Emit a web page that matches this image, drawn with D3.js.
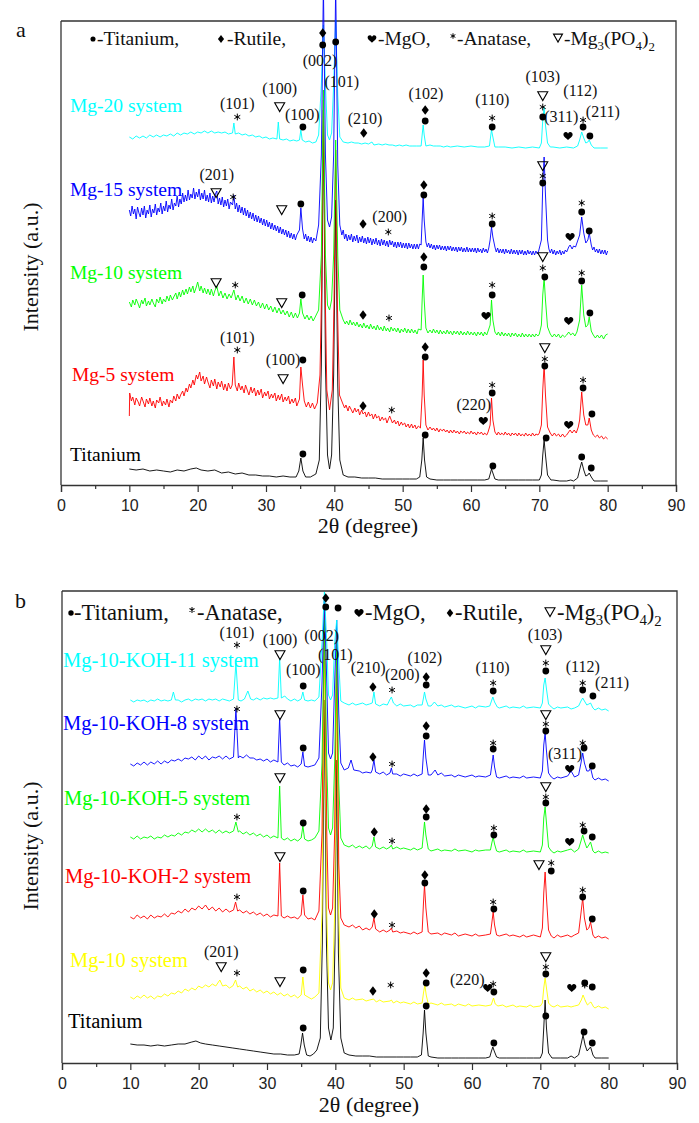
<!DOCTYPE html>
<html><head><meta charset="utf-8">
<script src="https://cdn.jsdelivr.net/npm/d3@7"></script>
<style>
body{margin:0;background:#fff}svg{display:block}
svg text.serif{font-family:"Liberation Serif","DejaVu Serif","Times New Roman",Times,serif;}
svg text.sans, svg .tick text{font-family:"Liberation Sans",Arial,Helvetica,sans-serif;}
</style>
</head><body><svg id="c" width="699" height="1123"></svg>
<script>
// ---------------- DATA ----------------
const xTickValues = [0,10,20,30,40,50,60,70,80,90];
const xMinorValues = [5,15,25,35,45,55,65,75,85];

// Panel a series: [2theta, intensity (a.u.)]
const tiA = [[10,16],[11,15],[12,16],[13,14],[14,15],[15,14],[16,13],[17,15],[18,14],[19,16],[19.8,17],[20.5,15],[21.5,14],[22.5,15],[23.5,12],[24.5,13],[25.5,11],[26.5,12],[27.5,10],[28.5,10],[29.5,9],[30.5,9],[31.5,8],[32.5,9],[33.5,8],[34.4,8],[34.8,14],[35.1,27],[35.4,14],[35.8,8],[36.5,8],[37.3,11],[37.8,25],[38.1,120],[38.4,375],[38.7,120],[39.0,30],[39.3,16],[39.6,30],[39.9,110],[40.2,285],[40.5,100],[40.8,25],[41.3,10],[42,8],[43,8],[44,7],[45,7],[46,7],[47,6],[48,6],[49,6],[50,6],[51,6],[52,6],[52.5,8],[52.8,25],[53.0,47],[53.2,25],[53.5,8],[54,6],[55,5],[56,5],[57,5],[58,5],[59,5],[60,5],[61,5],[62,5],[62.6,6],[62.85,12],[63.0,16],[63.2,12],[63.5,6],[64,5],[65,5],[66,5],[67,5],[68,5],[69,5],[70,5],[70.3,10],[70.5,30],[70.7,45],[70.9,30],[71.2,10],[71.7,5],[72,5],[73,4],[74,4],[74.6,5],[75,4],[75.6,7],[76.0,18],[76.2,23],[76.5,15],[76.8,9],[77.1,10],[77.3,12],[77.6,8],[78,4],[79,4],[80,4]];
const mg5A = [[10,69],[10.05,92],[10.3,84],[10.5,88],[10.8,80],[11,87],[11.3,83],[11.5,79],[11.8,88],[12,84],[12.3,78],[12.5,86],[12.8,81],[13,87],[13.3,79],[13.5,84],[13.8,77],[14,85],[14.3,82],[14.5,88],[14.8,79],[15,84],[15.3,80],[15.5,86],[15.8,78],[16,85],[16.3,82],[16.5,89],[16.8,84],[17,91],[17.3,86],[17.5,90],[17.8,94],[18,89],[18.3,97],[18.5,93],[18.8,101],[19,97],[19.3,105],[19.5,100],[19.8,110],[20,106],[20.3,113],[20.5,104],[20.8,109],[21,101],[21.3,108],[21.5,103],[21.8,97],[22,105],[22.3,99],[22.5,106],[22.8,96],[23,103],[23.3,98],[23.5,104],[23.8,95],[24,101],[24.3,94],[24.5,102],[24.8,96],[25.05,100],[25.3,128],[25.5,100],[25.8,94],[26,102],[26.3,95],[26.5,99],[26.8,92],[27,100],[27.3,94],[27.5,90],[27.8,98],[28,92],[28.3,97],[28.5,89],[28.8,95],[29,90],[29.3,96],[29.5,87],[29.8,93],[30,89],[30.3,94],[30.5,86],[30.8,91],[31,87],[31.3,92],[31.5,84],[31.8,90],[32,85],[32.3,91],[32.5,83],[32.8,88],[33,84],[33.3,89],[33.5,81],[33.8,86],[34,82],[34.3,87],[34.5,79],[34.9,86],[35.1,118],[35.35,100],[35.6,84],[35.9,78],[36.2,83],[36.5,77],[36.8,82],[37.1,76],[37.5,82],[37.9,110],[38.15,200],[38.4,385],[38.65,200],[38.9,95],[39.3,75],[39.7,95],[39.95,180],[40.2,335],[40.45,180],[40.75,90],[41.2,82],[41.5,77],[41.7,80],[42.0,74],[42.2,79],[42.5,75],[42.7,72],[43.0,77],[43.2,73],[43.5,76],[43.7,70],[44.0,75],[44.2,71],[44.5,73],[44.7,68],[45.0,73],[45.2,69],[45.5,71],[45.7,66],[46.0,71],[46.2,67],[46.5,69],[46.7,64],[47.0,68],[47.2,65],[47.5,67],[47.7,62],[48.1,69],[48.5,62],[48.8,65],[49,61],[49.3,64],[49.5,59],[49.8,63],[50,60],[50.3,62],[50.5,58],[50.8,61],[51,57],[51.3,61],[51.5,57],[51.8,60],[52,56],[52.3,59],[52.6,57],[52.85,90],[53.0,125],[53.15,90],[53.4,60],[53.7,55],[54,58],[54.3,55],[54.5,57],[54.8,54],[55,57],[55.3,53],[55.5,56],[55.8,54],[56,56],[56.3,53],[56.5,55],[56.8,52],[57,55],[57.3,52],[57.5,55],[57.8,52],[58,54],[58.3,51],[58.5,54],[58.8,52],[59,54],[59.3,51],[59.5,53],[59.8,51],[60,54],[60.3,51],[60.5,53],[60.8,50],[61,53],[61.3,51],[61.5,53],[61.8,50],[62,52],[62.3,50],[62.5,53],[62.8,60],[63.0,87],[63.2,65],[63.5,53],[63.8,50],[64,53],[64.3,50],[64.5,52],[64.8,50],[65,53],[65.3,50],[65.5,52],[65.8,49],[66,52],[66.3,50],[66.5,52],[66.8,49],[67,52],[67.3,49],[67.5,51],[67.8,49],[68,52],[68.3,49],[68.5,51],[68.8,49],[69,52],[69.3,49],[69.5,51],[69.8,50],[70,52],[70.3,60],[70.5,95],[70.7,120],[70.9,90],[71.2,58],[71.6,52],[71.9,49],[72.2,52],[72.5,49],[72.8,51],[73.1,48],[73.4,51],[73.7,48],[74,50],[74.3,53],[74.5,55],[74.8,52],[75.1,55],[75.4,52],[75.7,58],[75.9,65],[76.2,93],[76.5,70],[76.8,60],[77.1,60],[77.3,67],[77.6,55],[77.9,50],[78.2,48],[78.5,50],[78.8,47],[79.1,49],[79.4,46],[79.7,48],[80,46]];
const mg10A = [[10,183],[10.3,178],[10.5,185],[10.8,180],[11,186],[11.3,181],[11.5,177],[11.8,185],[12,181],[12.3,187],[12.5,179],[12.8,184],[13,180],[13.3,186],[13.5,182],[13.8,178],[14,186],[14.3,182],[14.5,188],[14.8,181],[15,186],[15.3,183],[15.5,189],[15.8,184],[16,190],[16.3,185],[16.5,188],[16.8,192],[17,186],[17.3,193],[17.5,188],[17.8,195],[18,190],[18.3,196],[18.5,191],[18.8,198],[19,193],[19.3,199],[19.5,192],[19.8,198],[20,203],[20.3,194],[20.5,199],[20.8,192],[21,197],[21.3,191],[21.5,196],[21.8,190],[22,196],[22.3,189],[22.5,194],[22.8,199],[23.1,189],[23.4,194],[23.7,187],[24,192],[24.3,186],[24.6,191],[24.9,187],[25.3,195],[25.6,185],[25.9,190],[26.2,184],[26.5,189],[26.8,182],[27.1,187],[27.4,181],[27.7,186],[28,180],[28.3,185],[28.6,179],[28.9,183],[29.2,177],[29.5,182],[29.8,176],[30.1,181],[30.4,175],[30.7,179],[31,173],[31.3,178],[31.6,172],[31.9,177],[32.2,171],[32.5,175],[32.8,170],[33.1,174],[33.4,168],[33.7,173],[34,167],[34.3,172],[34.6,167],[34.9,172],[35.1,186],[35.35,172],[35.7,166],[36,170],[36.3,165],[36.6,169],[36.9,164],[37.2,168],[37.7,175],[38.1,230],[38.4,395],[38.7,230],[39.0,180],[39.3,175],[39.6,185],[39.9,230],[40.2,345],[40.5,230],[40.8,175],[41.3,165],[41.6,161],[41.8,164],[42.1,160],[42.3,165],[42.6,160],[42.8,163],[43.1,159],[43.3,163],[43.6,158],[43.8,161],[44.1,157],[44.3,162],[44.6,157],[44.8,160],[45.1,156],[45.3,161],[45.6,156],[45.8,159],[46.1,155],[46.3,160],[46.6,155],[46.8,158],[47.1,154],[47.3,159],[47.6,154],[47.8,157],[48.1,153],[48.3,158],[48.6,154],[48.8,157],[49.1,153],[49.3,157],[49.6,152],[49.8,156],[50.1,153],[50.3,157],[50.6,152],[50.8,156],[51.1,152],[51.3,156],[51.6,152],[51.8,155],[52.1,151],[52.3,156],[52.7,155],[52.85,185],[53.0,210],[53.15,185],[53.4,157],[53.7,152],[54,155],[54.3,152],[54.5,156],[54.8,152],[55,155],[55.3,151],[55.5,155],[55.8,151],[56,154],[56.3,151],[56.5,155],[56.8,151],[57,154],[57.3,150],[57.5,154],[57.8,151],[58,154],[58.3,150],[58.5,154],[58.8,150],[59,153],[59.3,150],[59.5,154],[59.8,150],[60,153],[60.3,150],[60.5,153],[60.8,149],[61,153],[61.3,150],[61.5,153],[61.8,149],[62,153],[62.3,150],[62.5,154],[62.8,160],[63.0,185],[63.2,165],[63.5,153],[63.8,150],[64,153],[64.3,149],[64.5,153],[64.8,149],[65,152],[65.3,149],[65.5,152],[65.8,148],[66,152],[66.3,149],[66.5,152],[66.8,148],[67,151],[67.3,148],[67.5,152],[67.8,148],[68,151],[68.3,148],[68.5,151],[68.8,148],[69,151],[69.3,148],[69.5,151],[69.8,149],[70,151],[70.3,160],[70.5,190],[70.7,207],[70.9,185],[71.2,158],[71.6,151],[71.9,148],[72.2,151],[72.5,148],[72.8,151],[73.1,147],[73.4,150],[73.7,148],[74,150],[74.3,153],[74.6,150],[74.9,152],[75.2,149],[75.5,153],[75.9,165],[76.2,200],[76.5,170],[76.8,158],[77.1,160],[77.3,168],[77.6,154],[77.9,150],[78.2,147],[78.5,150],[78.8,147],[79.1,150],[79.4,146],[79.7,150],[80,151]];
const mg15A = [[10,275],[10.2,269],[10.4,279],[10.6,271],[10.8,276],[11,266],[11.2,278],[11.4,272],[11.6,268],[11.8,277],[12,270],[12.2,279],[12.4,267],[12.6,275],[12.8,271],[13,280],[13.2,268],[13.4,276],[13.6,272],[13.8,281],[14,270],[14.2,277],[14.4,273],[14.6,282],[14.8,271],[15,279],[15.2,274],[15.4,284],[15.6,273],[15.8,280],[16,276],[16.2,286],[16.4,275],[16.6,282],[16.8,279],[17,289],[17.2,278],[17.4,286],[17.6,281],[17.8,292],[18,283],[18.2,290],[18.4,284],[18.6,295],[18.8,285],[19,291],[19.2,287],[19.4,297],[19.6,286],[19.8,293],[20,288],[20.2,296],[20.4,285],[20.6,292],[20.8,286],[21,295],[21.2,284],[21.4,290],[21.6,283],[21.8,292],[22,282],[22.2,289],[22.4,283],[22.6,291],[22.8,294],[23.0,281],[23.2,287],[23.4,280],[23.6,288],[23.8,278],[24,285],[24.2,279],[24.4,286],[24.6,276],[24.8,283],[25.1,280],[25.3,290],[25.5,276],[25.7,282],[25.9,273],[26.1,280],[26.3,272],[26.5,278],[26.7,270],[26.9,277],[27.1,269],[27.3,275],[27.5,267],[27.7,273],[27.9,266],[28.1,272],[28.3,264],[28.5,270],[28.7,263],[28.9,269],[29.1,262],[29.3,267],[29.5,260],[29.7,266],[29.9,259],[30.1,265],[30.3,258],[30.5,263],[30.7,256],[30.9,262],[31.1,255],[31.3,260],[31.5,254],[31.7,259],[31.9,252],[32.1,258],[32.3,251],[32.5,256],[32.7,250],[32.9,255],[33.1,248],[33.3,254],[33.5,247],[33.7,252],[33.9,246],[34.1,251],[34.3,245],[34.5,250],[34.9,255],[35.1,277],[35.35,256],[35.6,246],[35.8,251],[36.0,244],[36.2,249],[36.4,243],[36.6,248],[36.8,242],[37.0,247],[37.3,244],[37.7,260],[38.1,330],[38.4,500],[38.7,330],[39.0,265],[39.3,258],[39.6,268],[39.9,330],[40.2,500],[40.5,320],[40.8,260],[41.1,250],[41.3,255],[41.5,246],[41.7,251],[41.9,244],[42.1,250],[42.3,245],[42.5,251],[42.7,243],[42.9,249],[43.1,244],[43.3,250],[43.5,242],[43.7,248],[43.9,243],[44.1,249],[44.3,242],[44.5,247],[44.7,241],[44.9,248],[45.1,242],[45.3,247],[45.5,240],[45.7,246],[45.9,241],[46.1,247],[46.3,240],[46.5,245],[46.7,239],[46.9,246],[47.1,240],[47.3,245],[47.5,239],[47.7,244],[47.9,238],[48.1,245],[48.3,240],[48.5,244],[48.7,238],[48.9,243],[49.1,237],[49.3,243],[49.5,238],[49.7,243],[49.9,237],[50.1,242],[50.3,237],[50.5,242],[50.7,236],[50.9,242],[51.1,237],[51.3,241],[51.5,236],[51.7,241],[51.9,236],[52.1,241],[52.3,236],[52.5,241],[52.7,240],[52.85,265],[53.0,287],[53.15,265],[53.4,243],[53.6,238],[53.8,242],[54,237],[54.2,241],[54.4,236],[54.6,240],[54.8,235],[55,240],[55.2,236],[55.4,240],[55.6,235],[55.8,239],[56,235],[56.2,239],[56.4,234],[56.6,239],[56.8,235],[57,239],[57.2,234],[57.4,238],[57.6,234],[57.8,238],[58,233],[58.2,238],[58.4,234],[58.6,238],[58.8,233],[59,237],[59.2,233],[59.4,238],[59.6,233],[59.8,237],[60,233],[60.2,237],[60.4,233],[60.6,237],[60.8,232],[61,237],[61.2,233],[61.4,236],[61.6,232],[61.8,237],[62,233],[62.2,236],[62.4,232],[62.6,237],[62.8,245],[63.0,258],[63.2,248],[63.5,238],[63.7,233],[63.9,237],[64.1,232],[64.3,236],[64.5,232],[64.7,236],[64.9,231],[65.1,236],[65.3,232],[65.5,235],[65.7,231],[65.9,236],[66.1,231],[66.3,235],[66.5,231],[66.7,235],[66.9,230],[67.1,235],[67.3,231],[67.5,235],[67.7,230],[67.9,234],[68.1,230],[68.3,235],[68.5,231],[68.7,234],[68.9,230],[69.1,234],[69.3,230],[69.5,234],[69.7,231],[69.9,234],[70.3,245],[70.5,300],[70.7,328],[70.9,290],[71.2,245],[71.4,236],[71.6,232],[71.8,236],[72,231],[72.2,235],[72.4,230],[72.6,234],[72.8,231],[73,235],[73.2,230],[73.4,234],[73.6,231],[73.8,235],[74,233],[74.3,238],[74.5,240],[74.8,236],[75.0,239],[75.3,238],[75.6,244],[75.9,250],[76.2,268],[76.5,252],[76.8,242],[77.1,245],[77.3,252],[77.6,240],[77.8,235],[78.0,238],[78.2,233],[78.4,236],[78.6,232],[78.8,236],[79,231],[79.2,235],[79.4,231],[79.6,235],[79.8,230],[80,234]];
const mg20A = [[10,348],[10.5,346],[11,349],[11.5,347],[12,349],[12.5,347],[13,350],[13.5,348],[14,350],[14.5,348],[15,350],[15.5,349],[16,351],[16.5,349],[17,352],[17.5,350],[18,352],[18.5,351],[19,353],[19.5,351],[20,353],[20.5,352],[21,354],[21.5,352],[22,354],[22.5,352],[23,353],[23.5,352],[24,353],[24.5,351],[25.1,352],[25.3,362],[25.5,351],[26,352],[26.5,350],[27,351],[27.5,349],[28,350],[28.5,348],[29,349],[29.5,347],[30,348],[30.5,346],[31,347],[31.6,346],[31.8,363],[32.0,346],[32.5,345],[33,346],[33.5,344],[34,345],[34.5,344],[34.9,345],[35.1,355],[35.3,345],[35.8,343],[36.3,344],[36.8,342],[37.3,343],[37.7,350],[38.1,400],[38.4,460],[38.7,400],[39.0,350],[39.3,345],[39.6,352],[39.9,400],[40.2,465],[40.5,390],[40.8,348],[41.3,343],[42,342],[42.5,343],[43,342],[43.5,342],[44,341],[44.5,342],[45,341],[45.5,343],[45.8,340],[46.5,341],[47,340],[47.5,341],[48,340],[48.5,340],[49,339],[49.5,340],[50,339],[50.5,340],[51,339],[51.5,339],[52,339],[52.7,339],[52.85,350],[53.0,360],[53.15,350],[53.4,339],[54,340],[54.5,339],[55,339],[55.5,339],[56,338],[56.5,339],[57,338],[58,339],[59,338],[60,339],[61,338],[62,338],[62.7,339],[62.9,350],[63.0,355],[63.2,348],[63.5,338],[64,338],[65,338],[66,337],[67,338],[68,337],[69,338],[70,337],[70.3,342],[70.5,365],[70.7,378],[70.9,360],[71.2,342],[71.6,338],[72,338],[73,337],[74,338],[75,337],[75.6,339],[75.9,345],[76.2,353],[76.5,347],[76.8,342],[77.1,343],[77.3,345],[77.6,340],[78,337],[79,337],[80,337]];

// Panel b series
const tiB = [[10,19],[11,18],[12,18],[13,17],[14,18],[15,17],[16,18],[17,19],[18,19],[19,21],[19.6,22],[20.3,20],[21,19],[22,18],[23,17],[24,16],[25,15],[26,14],[27,13],[28,12],[29,11],[30,10],[31,9],[32,9],[33,8],[34,8],[34.7,9],[34.95,18],[35.2,30],[35.45,18],[35.8,8],[36.3,7],[36.8,9],[37.3,13],[37.8,25],[38.1,120],[38.4,363],[38.7,120],[39.0,35],[39.35,23],[39.7,35],[39.95,120],[40.2,303],[40.45,110],[40.8,25],[41.3,10],[42,8],[43,7],[44,7],[45,7],[46,6],[47,6],[48,6],[49,6],[50,6],[51,6],[52,6],[52.6,8],[52.85,30],[53.05,53],[53.25,30],[53.6,7],[54,6],[55,5],[56,5],[57,5],[58,5],[59,5],[60,5],[61,5],[62,5],[62.6,6],[62.85,12],[63.05,16],[63.25,12],[63.6,6],[64,5],[65,5],[66,5],[67,5],[68,5],[69,5],[70,5],[70.3,10],[70.5,35],[70.7,63],[70.9,35],[71.2,10],[71.7,5],[72,5],[73,5],[74,5],[74.5,7],[75,5],[75.6,8],[76.0,20],[76.25,28],[76.55,18],[76.85,12],[77.1,14],[77.35,16],[77.7,8],[78,5],[79,5],[80,5]];
const mg10B = [[10,66],[10.5,64],[11,67],[11.5,65],[12,68],[12.5,65],[13,67],[13.5,64],[14,67],[14.5,66],[15,69],[15.5,67],[16,70],[16.5,69],[17,72],[17.5,70],[18,74],[18.5,72],[19,75],[19.5,73],[20,77],[20.5,75],[21,78],[21.5,76],[22,79],[22.5,77],[23.1,83],[23.5,77],[24,78],[24.5,75],[25,77],[25.4,83],[25.7,76],[26,77],[26.5,74],[27,76],[27.5,72],[28,74],[28.5,71],[29,73],[29.5,70],[30,72],[30.5,69],[31,71],[31.5,68],[32,70],[32.5,67],[33,69],[33.5,66],[34,68],[34.5,65],[35.0,68],[35.25,86],[35.5,68],[36,66],[36.5,64],[37,66],[37.6,70],[38.05,150],[38.4,423],[38.75,150],[39.0,80],[39.3,73],[39.6,80],[39.9,150],[40.2,383],[40.5,150],[40.8,75],[41.3,65],[42,63],[42.5,65],[43,63],[44,64],[44.5,62],[45,63],[45.6,64],[46,61],[46.5,63],[47,61],[48,62],[48.2,63],[48.5,60],[49,62],[49.5,60],[50,61],[51,59],[51.5,61],[52,59],[52.7,60],[52.9,70],[53.1,78],[53.3,68],[53.6,59],[54,60],[55,58],[55.5,60],[56,58],[57,59],[57.5,57],[58,59],[59,57],[59.5,59],[60,57],[61,58],[62,57],[62.8,58],[63.0,62],[63.15,65],[63.4,59],[63.8,57],[64.5,58],[65,56],[66,58],[66.5,56],[67,57],[68,56],[68.5,58],[69,56],[70,57],[70.3,60],[70.5,75],[70.7,85],[70.9,75],[71.2,60],[71.6,57],[72,56],[72.5,58],[73,56],[74,57],[74.5,56],[75,57],[75.6,58],[76.0,63],[76.25,68],[76.6,62],[76.9,58],[77.2,60],[77.4,61],[77.8,56],[78,55],[78.5,57],[79,55],[79.5,56],[80,54]];
const koh2B = [[10,146],[10.5,144],[11,148],[11.5,145],[12,147],[12.5,144],[13,148],[13.5,145],[14,147],[14.5,146],[15,149],[15.5,146],[16,150],[16.5,149],[17,152],[17.5,150],[18,154],[18.5,151],[19,155],[19.5,153],[20,157],[20.5,154],[21,158],[21.5,153],[22,156],[22.5,152],[23,155],[23.5,151],[24,154],[24.5,151],[25.1,153],[25.4,161],[25.7,152],[26,153],[26.5,150],[27,152],[27.5,149],[28,151],[28.5,148],[29,150],[29.5,147],[30,149],[30.5,146],[31,148],[31.6,147],[31.85,200],[32.1,147],[32.5,145],[33,147],[33.5,145],[34,146],[34.5,144],[35.0,148],[35.25,168],[35.5,148],[36,144],[36.5,145],[37,143],[37.6,152],[38.05,230],[38.4,463],[38.75,230],[39.0,155],[39.3,148],[39.6,155],[39.9,230],[40.2,413],[40.5,200],[40.8,145],[41.3,138],[42,136],[42.5,138],[43,135],[43.5,137],[44,133],[44.5,135],[45,133],[45.4,136],[45.65,145],[45.9,134],[46.5,131],[47,133],[47.5,131],[48.0,133],[48.2,135],[48.4,131],[49,132],[49.5,130],[50,131],[51,129],[51.5,131],[52,129],[52.7,131],[52.9,160],[53.05,178],[53.25,155],[53.6,131],[54,129],[55,130],[55.5,128],[56,130],[57,128],[57.5,130],[58,127],[59,129],[60,127],[60.5,129],[61,127],[62,128],[62.7,129],[62.9,140],[63.1,151],[63.3,138],[63.6,128],[64,127],[65,129],[65.5,127],[66,128],[67,126],[67.5,128],[68,126],[69,128],[70,126],[70.3,135],[70.5,170],[70.7,191],[70.9,165],[71.2,133],[71.6,127],[72,125],[72.5,128],[73,126],[74,128],[74.5,126],[75,128],[75.6,130],[75.95,150],[76.2,165],[76.45,145],[76.8,133],[77.1,135],[77.35,141],[77.7,128],[78,125],[78.5,127],[79,125],[79.5,126],[80,124]];
const koh5B = [[10,226],[10.5,224],[11,227],[11.5,224],[12,226],[12.5,225],[13,227],[13.5,224],[14,226],[14.5,225],[15,228],[15.5,226],[16,228],[16.5,227],[17,230],[17.5,228],[18,231],[18.5,230],[19,233],[19.5,231],[20,234],[20.5,231],[21,234],[21.5,231],[22,233],[22.5,230],[23,233],[23.5,230],[24,232],[24.5,230],[25.1,232],[25.45,241],[25.8,231],[26,232],[26.5,229],[27,231],[27.5,228],[28,230],[28.5,227],[29,229],[29.5,226],[30,228],[30.5,225],[31,227],[31.6,225],[31.85,277],[32.1,225],[32.5,223],[33,225],[33.5,222],[34,224],[34.5,222],[35.0,225],[35.25,237],[35.5,224],[36,222],[36.5,223],[37,225],[37.6,232],[38.05,300],[38.4,443],[38.75,300],[39.0,235],[39.3,228],[39.6,235],[39.9,300],[40.2,423],[40.5,280],[40.8,225],[41.3,218],[42,216],[42.5,218],[43,215],[43.5,217],[44,215],[44.5,217],[45,214],[45.4,217],[45.65,226],[45.9,216],[46.5,214],[47,216],[47.5,214],[48.0,216],[48.2,218],[48.4,214],[49,216],[49.5,214],[50,215],[51,213],[51.5,215],[52,213],[52.7,215],[52.9,230],[53.05,241],[53.25,228],[53.6,214],[54,212],[55,214],[55.5,212],[56,213],[57,212],[57.5,214],[58,212],[59,213],[60,211],[60.5,213],[61,212],[62,213],[62.7,213],[62.9,220],[63.1,226],[63.3,219],[63.6,212],[64,211],[65,213],[65.5,211],[66,212],[67,211],[67.5,213],[68,211],[69,212],[70,211],[70.3,218],[70.5,245],[70.7,256],[70.9,240],[71.2,216],[71.6,212],[72,210],[72.5,212],[73,211],[74,213],[74.5,214],[75,211],[75.6,214],[75.95,222],[76.2,228],[76.45,222],[76.8,215],[77.1,218],[77.35,221],[77.7,212],[78,210],[78.5,212],[79,210],[79.5,211],[80,210]];
const koh8B = [[10,299],[10.5,297],[11,300],[11.5,298],[12,301],[12.5,298],[13,301],[13.5,299],[14,302],[14.5,299],[15,302],[15.5,300],[16,303],[16.5,302],[17,304],[17.5,302],[18,305],[18.5,304],[19,306],[19.5,303],[20,307],[20.5,304],[21,307],[21.5,303],[22,306],[22.5,305],[23,307],[23.5,304],[24,307],[24.5,304],[25.1,306],[25.45,355],[25.8,305],[26,307],[26.5,305],[27,308],[27.5,305],[28,305],[28.5,303],[29,304],[29.5,302],[30,304],[30.5,301],[31,303],[31.6,301],[31.85,345],[32.1,301],[32.5,298],[33,300],[33.5,297],[34,298],[34.5,296],[35.0,299],[35.25,311],[35.5,297],[36,296],[36.5,297],[37,298],[37.6,305],[38.05,380],[38.4,467],[38.75,380],[39.0,310],[39.3,304],[39.6,310],[39.9,380],[40.2,443],[40.5,350],[40.8,300],[41.3,293],[41.9,295],[42.3,303],[42.7,293],[43.5,292],[44,290],[44.5,291],[45.2,290],[45.4,293],[45.65,303],[45.9,291],[46.5,289],[47,291],[47.5,288],[48.0,290],[48.2,295],[48.4,289],[49,289],[49.5,287],[50,289],[51,287],[51.5,289],[52,287],[52.7,289],[52.9,310],[53.05,323],[53.25,305],[53.6,288],[54,288],[54.6,293],[55,288],[55.5,290],[56,287],[57,288],[57.5,286],[58,288],[59,286],[60,288],[60.5,286],[61,287],[62,286],[62.7,288],[62.9,298],[63.1,308],[63.3,296],[63.6,286],[64,285],[65,287],[65.5,285],[66,286],[67,285],[67.5,287],[68,285],[69,286],[70,285],[70.3,292],[70.5,318],[70.7,330],[70.9,312],[71.2,290],[71.6,286],[72,284],[72.5,286],[73,285],[74,287],[74.5,292],[75,286],[75.6,288],[75.95,300],[76.2,310],[76.45,300],[76.8,292],[77.1,292],[77.35,295],[77.7,285],[78,283],[78.5,285],[79,283],[79.5,284],[80,282]];
const koh11B = [[10,363],[10.5,361],[11,363],[11.5,362],[12,363],[12.5,361],[13,363],[13.5,362],[14,364],[14.5,362],[15,363],[15.5,362],[16,363],[16.3,371],[16.6,363],[17,363],[17.5,361],[18,363],[18.5,364],[19,362],[19.5,364],[20,363],[20.5,364],[21,362],[21.5,364],[22,363],[22.5,364],[23,362],[23.5,364],[24,363],[24.5,362],[25.1,364],[25.45,400],[25.8,363],[26.2,362],[26.7,364],[27.2,372],[27.6,364],[28,363],[28.5,365],[29,363],[29.5,365],[30,364],[30.5,365],[31,364],[31.6,365],[31.85,405],[32.1,365],[32.6,367],[33,364],[33.5,362],[34,364],[34.5,362],[35.0,364],[35.25,371],[35.5,363],[36,362],[36.5,363],[37,362],[37.6,366],[38.05,420],[38.4,471],[38.75,420],[39.0,368],[39.3,363],[39.6,368],[39.9,420],[40.2,443],[40.5,400],[40.8,362],[41.3,360],[42,358],[42.5,360],[43,358],[44,360],[44.5,358],[45,359],[45.4,360],[45.65,371],[45.9,359],[46.5,357],[47,359],[47.6,358],[47.95,363],[48.2,366],[48.5,360],[49,357],[49.5,359],[50,357],[51,358],[51.5,356],[52,358],[52.7,358],[52.9,365],[53.05,371],[53.25,364],[53.6,357],[54,357],[54.5,361],[55,357],[55.5,358],[56,356],[57,358],[57.5,356],[58,357],[59,355],[60,357],[60.5,355],[61,357],[62,356],[62.6,357],[62.85,362],[63.05,366],[63.3,361],[63.7,356],[64,355],[65,357],[65.5,355],[66,356],[67,355],[67.5,357],[68,355],[69,356],[70,355],[70.3,360],[70.5,378],[70.7,385],[70.9,374],[71.2,359],[71.6,356],[72,354],[72.5,356],[73,355],[74,356],[74.5,354],[75,355],[75.6,357],[75.95,362],[76.2,365],[76.45,362],[76.8,358],[77.1,359],[77.35,360],[77.7,355],[78,353],[78.5,355],[79,353],[79.5,354],[80,352]];

const seriesNamesA = ["Titanium","Mg-5 system","Mg-10 system","Mg-20 system","Mg-15 system"];
const seriesNamesB = ["Titanium","Mg-10 system","Mg-10-KOH-2 system","Mg-10-KOH-5 system","Mg-10-KOH-8 system","Mg-10-KOH-11 system"];

// Phase markers: [type, 2theta, intensity]  C=Titanium, D=Rutile, H=MgO, A=Anatase, T=Mg3(PO4)2
const markersA = [
 ["D",38.3,452],["C",38.3,440],["C",40.2,443],
 ["A",25.8,368],["T",32.0,378],["C",35.4,358],["D",44.3,352],["D",53.3,375],["C",53.3,364],["A",63.1,367],["C",63.1,358],["T",70.5,389],["A",70.5,378],["C",70.5,368],["A",76.4,365],["C",76.4,358],["H",74.2,349],["C",77.4,349],
 ["T",22.7,292],["A",25.2,288],["T",32.3,275],["C",35.1,281],["D",44.2,261],["A",47.9,253],["D",53.1,300],["C",53.1,290],["A",63.1,269],["C",63.1,261],["T",70.5,319],["A",70.5,309],["C",70.5,302],["H",74.5,248],["A",76.2,282],["C",76.2,273],["C",77.3,254],
 ["T",22.7,202],["A",25.5,200],["T",32.3,182],["C",35.3,190],["D",44.2,170],["A",48.0,167],["D",53.1,228],["C",53.1,218],["H",62.2,169],["A",63.1,200],["C",63.1,190],["T",70.5,228],["A",70.5,217],["C",70.8,208],["H",74.3,164],["A",76.2,212],["C",76.2,204],["C",77.4,172],
 ["A",25.8,135],["C",35.4,125],["T",32.5,106],["D",44.2,79],["A",48.4,75],["D",53.3,138],["C",53.3,128],["H",61.8,64],["A",63.1,100],["C",63.1,92],["T",70.8,137],["A",70.8,126],["C",70.8,119],["H",74.3,60],["A",76.4,105],["C",76.4,97],["C",77.7,71],
 ["C",35.4,31],["C",53.3,50],["C",63.2,19],["C",71.0,47],["C",76.2,28],["C",77.6,17]
];
const markersB = [
 ["D",38.6,465],["C",38.6,456],["C",40.4,455],
 ["A",25.6,418],["T",31.9,408],["C",35.3,377],["D",45.5,376],["A",48.3,373],["D",53.3,386],["C",53.3,378],["A",63.1,380],["C",63.1,372],["T",70.8,413],["A",70.8,400],["C",70.8,392],["A",76.2,380],["C",76.2,373],["C",77.7,367],
 ["A",25.6,354],["T",31.9,348],["C",35.3,315],["D",45.5,306],["A",48.3,299],["D",53.3,337],["C",53.3,327],["A",63.1,320],["C",63.1,314],["T",70.8,348],["A",70.8,339],["C",70.8,332],["H",74.3,294],["A",76.2,320],["C",76.4,315],["C",77.6,297],
 ["T",31.9,285],["A",25.6,246],["C",35.3,240],["D",45.7,231],["A",48.3,222],["D",53.3,254],["C",53.3,246],["A",63.2,235],["C",63.2,228],["T",70.8,276],["A",70.8,266],["C",70.8,260],["H",74.3,221],["A",76.2,238],["C",76.4,232],["C",77.6,226],
 ["T",31.9,206],["A",25.6,166],["C",35.3,172],["D",45.7,149],["A",48.3,138],["D",53.1,188],["C",53.1,180],["A",63.1,161],["C",63.2,154],["T",69.8,198],["A",71.6,200],["C",71.6,192],["A",76.2,173],["C",76.2,166],["C",77.6,144],
 ["T",23.3,96],["A",25.6,90],["T",31.9,81],["C",35.3,93],["D",45.5,72],["A",48.1,78],["D",53.3,90],["C",53.3,80],["H",62.3,75],["A",63.1,79],["C",63.2,71],["T",70.8,106],["A",70.8,96],["C",70.8,89],["H",74.6,75],["A",76.5,78],["C",76.5,80],["C",77.6,76],
 ["C",35.3,35],["C",53.3,57],["C",63.2,20],["C",70.8,47],["C",76.4,31],["C",77.6,20]
];

// Miller index labels: [2theta, intensity, text]
const hklA = [[25.8,376,"(101)"],[32.0,391,"(100)"],[35.3,365,"(100)"],[37.9,419,"(002)"],[41.1,398,"(101)"],[44.5,361,"(210)"],[53.4,386,"(102)"],[63.1,380,"(110)"],[70.5,403,"(103)"],[76.0,389,"(112)"],[73.2,363,"(311)"],[79.3,368,"(211)"],[22.8,305,"(201)"],[48.1,263,"(200)"],[25.8,142,"(101)"],[32.5,120,"(100)"],[60.4,75,"(220)"]];
const hklB = [[25.6,425,"(101)"],[31.9,418,"(100)"],[38.0,422,"(002)"],[40.0,403,"(101)"],[35.3,388,"(100)"],[44.8,390,"(210)"],[49.8,383,"(200)"],[53.1,400,"(102)"],[63.0,390,"(110)"],[70.7,423,"(103)"],[76.2,391,"(112)"],[80.5,375,"(211)"],[73.6,304,"(311)"],[23.3,106,"(201)"],[59.3,78,"(220)"]];

// ---------------- DRAWING ----------------
const svg = d3.select("#c");
svg.append("rect").attr("width",699).attr("height",1123).attr("fill","#fff");

const markerPaths = {
  D: "M0,-4.8L3.6,0L0,4.8L-3.6,0Z",
  T: "M-5,-4.3L5,-4.3L0,4.6Z",
  H: "M0,4C-1,2.6 -4.6,1 -4.6,-1.5C-4.6,-3.5 -2.6,-4.4 -1.3,-3.7C-0.5,-3.3 0,-2.6 0,-2.1C0,-2.6 0.5,-3.3 1.3,-3.7C2.6,-4.4 4.6,-3.5 4.6,-1.5C4.6,1 1,2.6 0,4Z",
  A: "M0,-3.4L0,3.4M-2.95,-1.7L2.95,1.7M-2.95,1.7L2.95,-1.7"
};
function drawMarker(g, type, cx, cy, scale) {
  scale = scale || 1;
  if (type === "C") {
    g.append("path").attr("d", d3.symbol().type(d3.symbolCircle).size(36*scale*scale)())
      .attr("transform",`translate(${cx},${cy})`).attr("fill","#000");
  } else if (type === "T") {
    g.append("path").attr("d", markerPaths.T).attr("transform",`translate(${cx},${cy}) scale(${scale})`)
      .attr("fill","none").attr("stroke","#000").attr("stroke-width",1.1/scale);
  } else if (type === "A") {
    g.append("path").attr("d", markerPaths.A).attr("transform",`translate(${cx},${cy}) scale(${scale})`)
      .attr("fill","none").attr("stroke","#000").attr("stroke-width",1.0/scale);
  } else {
    g.append("path").attr("d", markerPaths[type]).attr("transform",`translate(${cx},${cy}) scale(${scale})`)
      .attr("fill","#000");
  }
}

function serifText(g) { return g.append("text").attr("class","serif"); }

function drawPanel(cfg) {
  const g = svg.append("g");
  const x = d3.scaleLinear().domain([0,90]).range([cfg.l, cfg.r]);
  const y = d3.scaleLinear().domain([0, cfg.b - cfg.t]).range([cfg.b, cfg.t]);

  g.append("path").attr("d",`M${cfg.l},${cfg.t}H${cfg.r}V${cfg.b}`)
    .attr("fill","none").attr("stroke","#333").attr("stroke-width",1.3);
  g.append("line").attr("x1",cfg.l).attr("x2",cfg.l).attr("y1",cfg.t).attr("y2",cfg.b)
    .attr("stroke","#333").attr("stroke-width",1.3);

  const line = d3.line().x(d=>x(d[0])).y(d=>y(d[1]));
  cfg.series.forEach(s => {
    g.append("path").datum(s.data).attr("d", line)
      .attr("fill","none").attr("stroke", s.color).attr("stroke-width",0.9).attr("stroke-linejoin","round");
  });

  const ax = g.append("g").attr("transform",`translate(0,${cfg.b})`)
    .call(d3.axisBottom(x).tickValues(xTickValues).tickSize(7).tickPadding(cfg.pad).tickFormat(d3.format("d")));
  ax.attr("font-family", null);
  ax.select(".domain").attr("stroke","#333").attr("stroke-width",1.3);
  ax.selectAll(".tick line").attr("stroke","#333").attr("stroke-width",1.2);
  ax.selectAll("text").attr("class","sans").attr("font-size",16).attr("fill","#222");
  const axm = g.append("g").attr("transform",`translate(0,${cfg.b})`)
    .call(d3.axisBottom(x).tickValues(xMinorValues).tickSize(4).tickFormat(""));
  axm.select(".domain").remove();
  axm.selectAll(".tick line").attr("stroke","#333").attr("stroke-width",1.2);

  serifText(g).attr("x", cfg.xtX).attr("y", cfg.xtY).attr("text-anchor","middle")
    .attr("font-size",22).attr("fill","#111").text("2θ (degree)");
  serifText(g).attr("transform",`translate(${cfg.ytX},${cfg.ytY}) rotate(-90)`).attr("text-anchor","middle")
    .attr("font-size",22).attr("fill","#111").text("Intensity (a.u.)");
  serifText(g).attr("x", cfg.letterX).attr("y", cfg.letterY)
    .attr("font-size",22).attr("fill","#111").text(cfg.letter);

  cfg.series.forEach(s => {
    serifText(g).attr("x", cfg.l + s.lx).attr("y", y(s.ly))
      .attr("font-size",cfg.labFont).attr("fill", s.color).text(s.name);
  });

  cfg.hkl.forEach(h => {
    serifText(g).attr("x", x(h[0])).attr("y", y(h[1])).attr("text-anchor","middle")
      .attr("font-size",16).attr("fill","#111").text(h[2]);
  });

  cfg.markers.forEach(m => drawMarker(g, m[0], x(m[1]), y(m[2])));

  cfg.legend.forEach(it => {
    drawMarker(g, it.type, it.sx, it.sy, it.scale);
    const t = serifText(g).attr("x", it.tx).attr("y", cfg.legY)
      .attr("font-size",cfg.legFont).attr("fill","#111");
    if (it.type === "T") {
      const sub = cfg.legFont*0.66;
      t.append("tspan").text("-Mg");
      t.append("tspan").attr("font-size",sub).attr("dy",5).text("3");
      t.append("tspan").attr("dy",-5).text("(PO");
      t.append("tspan").attr("font-size",sub).attr("dy",5).text("4");
      t.append("tspan").attr("dy",-5).text(")");
      t.append("tspan").attr("font-size",sub).attr("dy",6).text("2");
    } else {
      t.text(it.label);
    }
  });
}

const colA = {"Titanium":"#000000","Mg-5 system":"#ff0000","Mg-10 system":"#00ff00","Mg-20 system":"#00ffff","Mg-15 system":"#0000ff"};
const dataA = [tiA, mg5A, mg10A, mg20A, mg15A];
const labA = [[9,24],[11,104],[9,206],[9,373],[9,289]];
drawPanel({
  l:61, t:21, r:676, b:485, pad:8, labFont:19.5, legFont:19.5,
  xtX:368, xtY:533, ytX:38, ytY:267, letter:"a", letterX:16, letterY:37,
  series: seriesNamesA.map((n,i)=>({name:n, color:colA[n], data:dataA[i], lx:labA[i][0], ly:labA[i][1]})),
  hkl: hklA, markers: markersA, legY:45,
  legend:[
    {type:"C", sx:93, sy:39, scale:0.75, tx:97, label:"-Titanium,"},
    {type:"D", sx:221, sy:39, scale:0.85, tx:227, label:"-Rutile,"},
    {type:"H", sx:372, sy:39, scale:0.95, tx:378, label:"-MgO,"},
    {type:"A", sx:453, sy:36, scale:0.8, tx:457, label:"-Anatase,"},
    {type:"T", sx:558, sy:38, scale:0.9, tx:564, label:""}
  ]
});

const colB = {"Titanium":"#000000","Mg-10 system":"#ffff00","Mg-10-KOH-2 system":"#ff0000","Mg-10-KOH-5 system":"#00ff00","Mg-10-KOH-8 system":"#0000ff","Mg-10-KOH-11 system":"#00ffff"};
const dataB = [tiB, mg10B, koh2B, koh5B, koh8B, koh11B];
const labB = [[6,35],[8,96],[3,180],[2,258],[1,333],[1,396]];
drawPanel({
  l:62, t:591, r:677, b:1063, pad:8, labFont:20.5, legFont:22.5,
  xtX:369, xtY:1112, ytX:38, ytY:846, letter:"b", letterX:15, letterY:608,
  series: seriesNamesB.map((n,i)=>({name:n, color:colB[n], data:dataB[i], lx:labB[i][0], ly:labB[i][1]})),
  hkl: hklB, markers: markersB, legY:620,
  legend:[
    {type:"C", sx:71, sy:613, scale:0.8, tx:74, label:"-Titanium,"},
    {type:"A", sx:192, sy:610, scale:0.85, tx:197, label:"-Anatase,"},
    {type:"H", sx:359, sy:613, scale:1.0, tx:365, label:"-MgO,"},
    {type:"D", sx:450, sy:613, scale:0.9, tx:455, label:"-Rutile,"},
    {type:"T", sx:550, sy:612, scale:1.0, tx:557, label:""}
  ]
});
</script></body></html>
